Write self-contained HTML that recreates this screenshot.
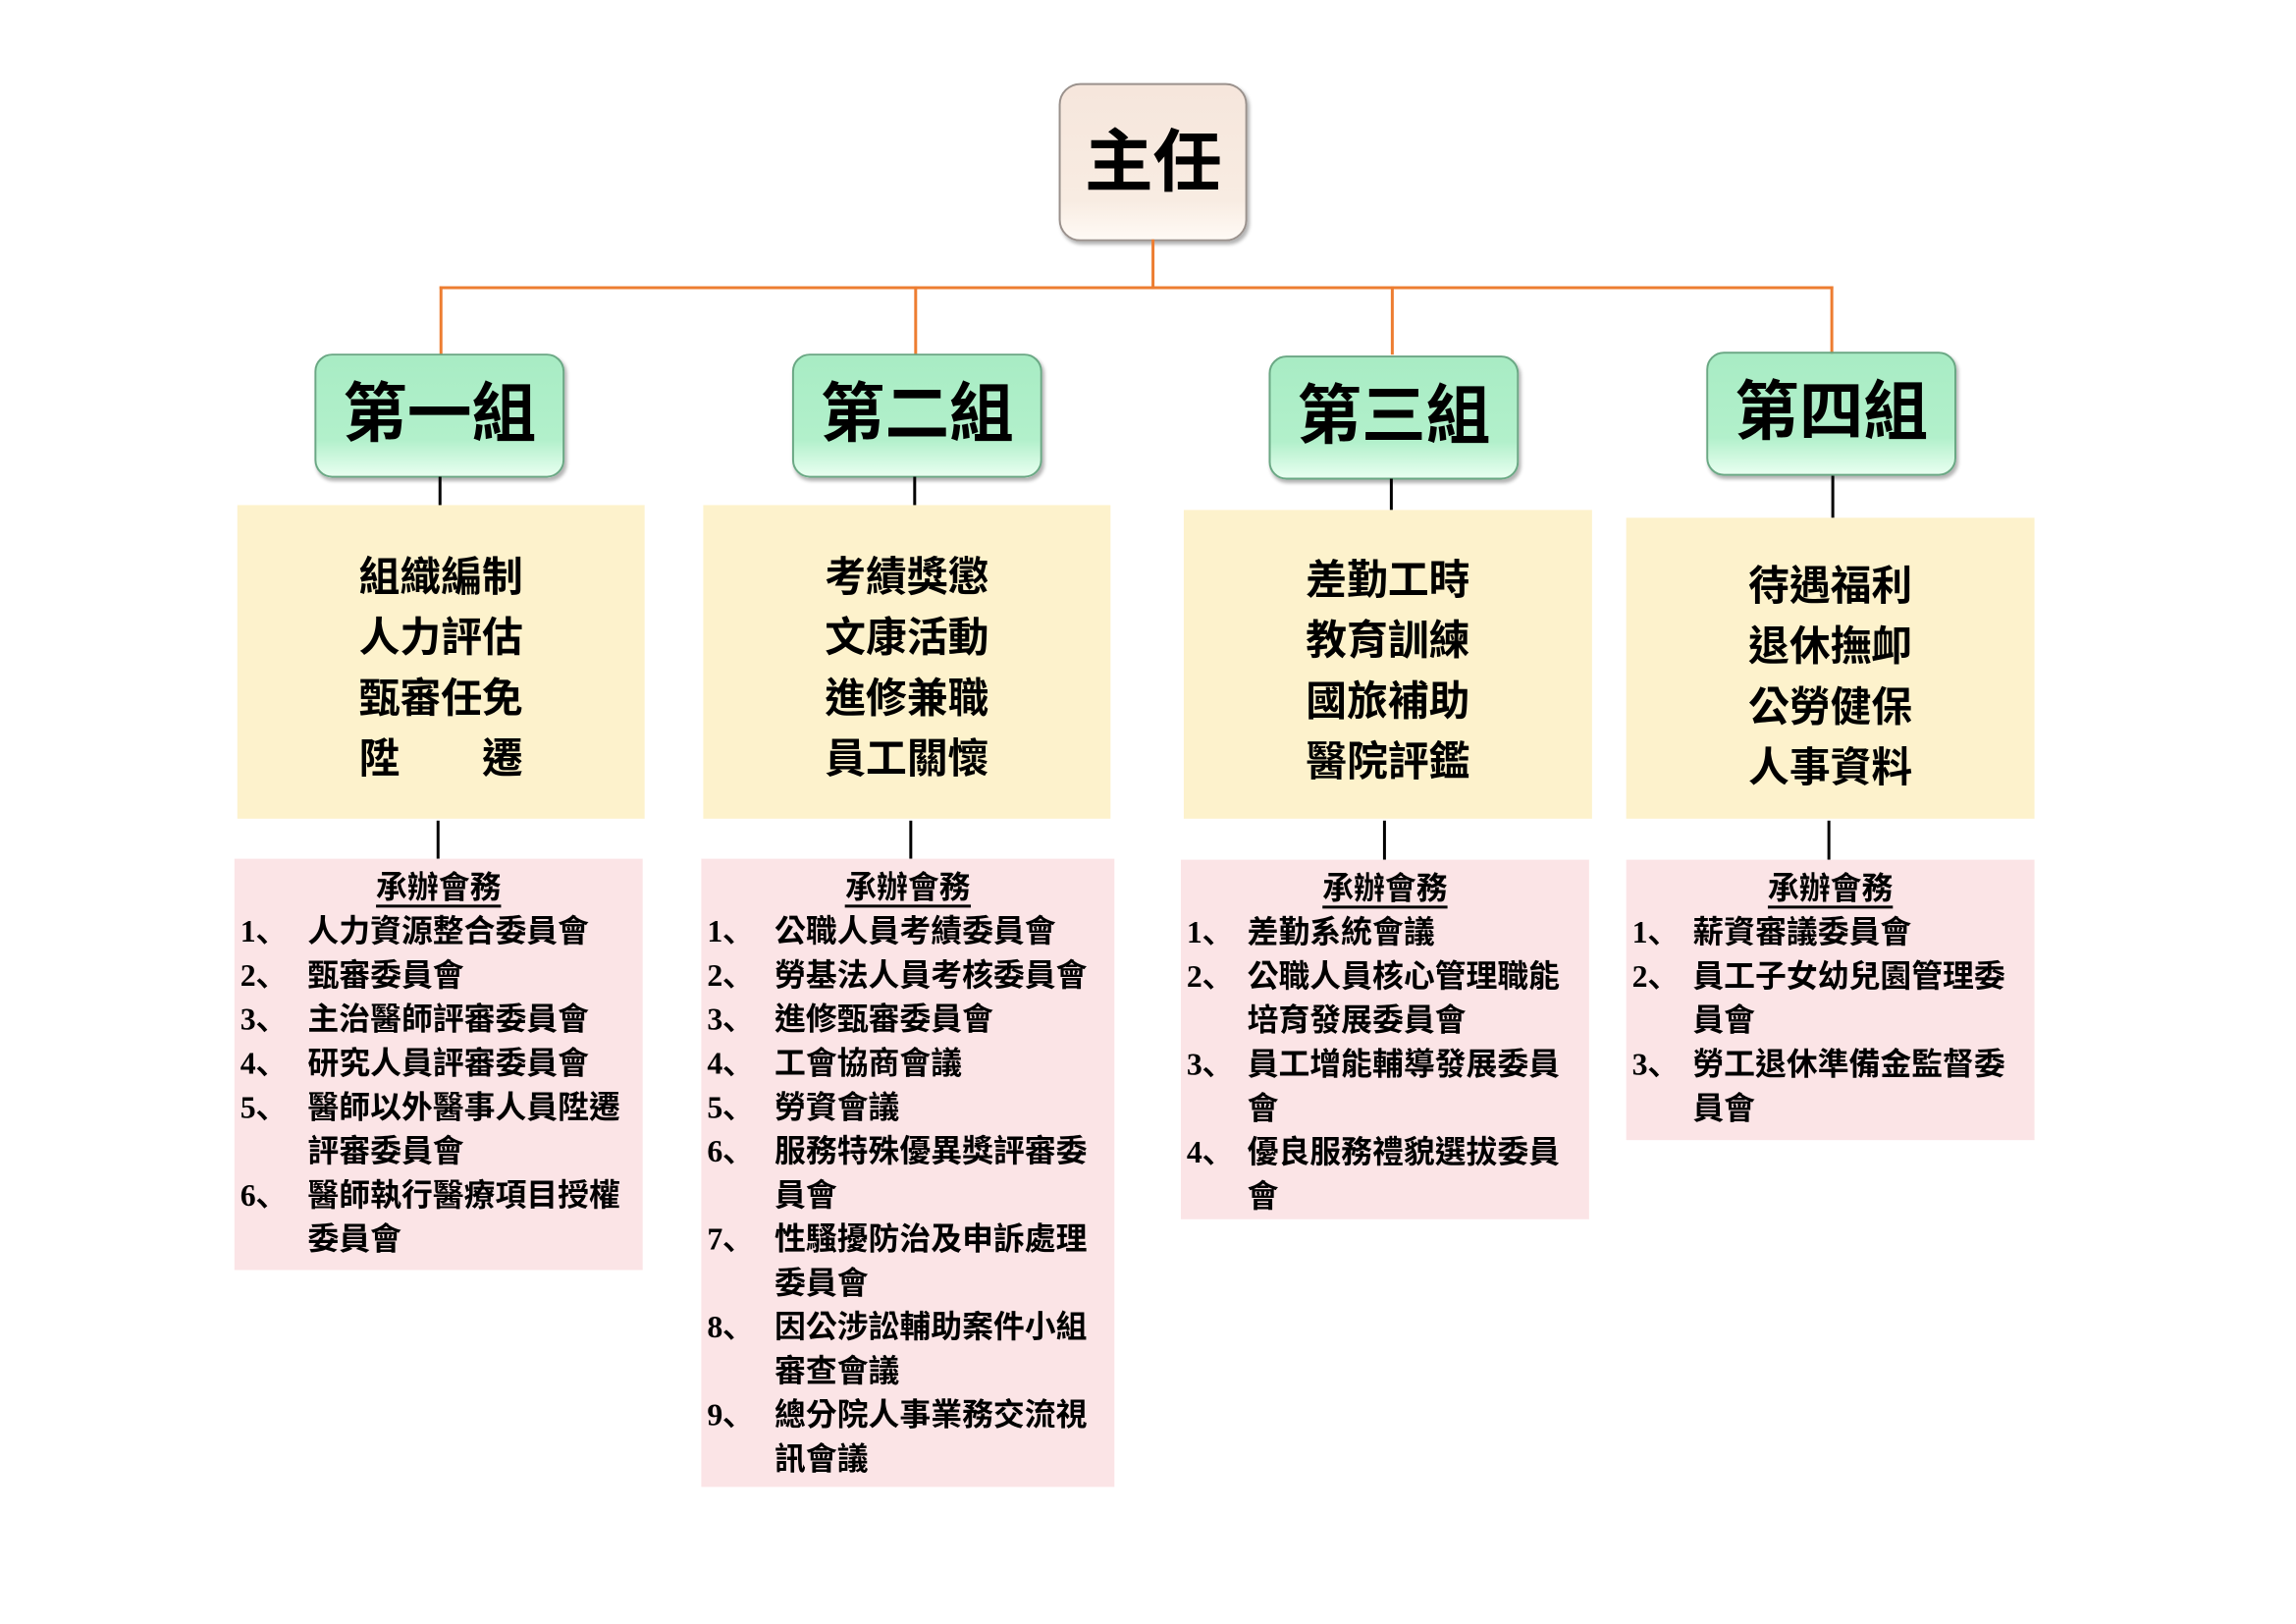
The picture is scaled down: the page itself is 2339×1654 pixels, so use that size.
<!DOCTYPE html>
<html><head><meta charset="utf-8"><style>
body{margin:0;width:2339px;height:1654px;background:#fff;position:relative;overflow:hidden;font-family:"Liberation Sans","Noto Sans CJK TC",sans-serif;}
#w{position:absolute;left:0;top:0;width:2339px;height:1654px;transform:scale(0.995);transform-origin:0 0;}
.a{position:absolute;}
.top{left:1084px;top:85px;width:189px;height:158px;border:2px solid #9a918c;border-radius:22px;background:linear-gradient(#f6e6dc,#f8ece2 75%,#fffaf5);box-shadow:2px 3px 4px rgba(0,0,0,.3);font-weight:bold;font-size:70px;line-height:158px;text-align:center;}
.g{top:362px;width:252px;height:123px;border:2px solid #6aa884;border-radius:18px;background:linear-gradient(#a8ecc4,#b2f0cb 70%,#e8fff0);box-shadow:2px 3px 4px rgba(0,0,0,.3);font-weight:bold;font-size:66px;line-height:118px;text-align:center;}
.y{background:#fdf2cc;font-weight:bold;font-size:42px;line-height:62px;text-align:center;box-sizing:border-box;}
.p{background:#fbe4e6;font-weight:bold;font-size:32px;line-height:45px;box-sizing:border-box;padding-top:7px;}
.h{text-align:center;}
.h span{border-bottom:3px solid #000;}
.r{display:flex;}
.n{font-family:"Liberation Serif",serif;width:68px;padding-left:6px;box-sizing:border-box;}
.p2 .n{width:75px;}
.vl{background:#000;width:3px;}
.ol{background:#ed7d31;}
</style></head><body><div id="w">
<div class="a top">主任</div>
<div class="a ol" style="left:1179px;top:245px;width:3px;height:51px"></div>
<div class="a ol" style="left:450px;top:293px;width:1427px;height:3px"></div>
<div class="a ol" style="left:450px;top:293px;width:3px;height:70px"></div>
<div class="a ol" style="left:936px;top:293px;width:3px;height:70px"></div>
<div class="a ol" style="left:1424px;top:293px;width:3px;height:70px"></div>
<div class="a ol" style="left:1874px;top:293px;width:3px;height:70px"></div>

<div class="a g" style="left:322px">第一組</div>
<div class="a g" style="left:811px">第二組</div>
<div class="a g" style="left:1299px;top:364px">第三組</div>
<div class="a g" style="left:1747px;top:360px">第四組</div>

<div class="a vl" style="left:449px;top:488px;height:30px"></div>
<div class="a vl" style="left:935px;top:488px;height:30px"></div>
<div class="a vl" style="left:1423px;top:490px;height:32px"></div>
<div class="a vl" style="left:1875px;top:487px;height:43px"></div>

<div class="a y" style="left:243px;top:517px;width:417px;height:321px;padding-top:43px">組織編制<br>人力評估<br>甄審任免<br>陞&emsp;&emsp;遷</div>
<div class="a y" style="left:720px;top:517px;width:417px;height:321px;padding-top:43px">考績獎懲<br>文康活動<br>進修兼職<br>員工關懷</div>
<div class="a y" style="left:1212px;top:522px;width:418px;height:316px;padding-top:41px">差勤工時<br>教育訓練<br>國旅補助<br>醫院評鑑</div>
<div class="a y" style="left:1665px;top:530px;width:418px;height:308px;padding-top:39px">待遇福利<br>退休撫卹<br>公勞健保<br>人事資料</div>

<div class="a vl" style="left:447px;top:840px;height:39px"></div>
<div class="a vl" style="left:931px;top:840px;height:39px"></div>
<div class="a vl" style="left:1416px;top:840px;height:40px"></div>
<div class="a vl" style="left:1871px;top:840px;height:40px"></div>

<div class="a p p2" style="left:240px;top:879px;width:418px;height:421px">
<div class="h"><span>承辦會務</span></div>
<div class="r"><div class="n">1、</div><div>人力資源整合委員會</div></div>
<div class="r"><div class="n">2、</div><div>甄審委員會</div></div>
<div class="r"><div class="n">3、</div><div>主治醫師評審委員會</div></div>
<div class="r"><div class="n">4、</div><div>研究人員評審委員會</div></div>
<div class="r"><div class="n">5、</div><div>醫師以外醫事人員陞遷<br>評審委員會</div></div>
<div class="r"><div class="n">6、</div><div>醫師執行醫療項目授權<br>委員會</div></div>
</div>

<div class="a p p2" style="left:718px;top:879px;width:423px;height:643px">
<div class="h"><span>承辦會務</span></div>
<div class="r"><div class="n">1、</div><div>公職人員考績委員會</div></div>
<div class="r"><div class="n">2、</div><div>勞基法人員考核委員會</div></div>
<div class="r"><div class="n">3、</div><div>進修甄審委員會</div></div>
<div class="r"><div class="n">4、</div><div>工會協商會議</div></div>
<div class="r"><div class="n">5、</div><div>勞資會議</div></div>
<div class="r"><div class="n">6、</div><div>服務特殊優異獎評審委<br>員會</div></div>
<div class="r"><div class="n">7、</div><div>性騷擾防治及申訴處理<br>委員會</div></div>
<div class="r"><div class="n">8、</div><div>因公涉訟輔助案件小組<br>審查會議</div></div>
<div class="r"><div class="n">9、</div><div>總分院人事業務交流視<br>訊會議</div></div>
</div>

<div class="a p" style="left:1209px;top:880px;width:418px;height:368px">
<div class="h"><span>承辦會務</span></div>
<div class="r"><div class="n">1、</div><div>差勤系統會議</div></div>
<div class="r"><div class="n">2、</div><div>公職人員核心管理職能<br>培育發展委員會</div></div>
<div class="r"><div class="n">3、</div><div>員工增能輔導發展委員<br>會</div></div>
<div class="r"><div class="n">4、</div><div>優良服務禮貌選拔委員<br>會</div></div>
</div>

<div class="a p" style="left:1665px;top:880px;width:418px;height:287px">
<div class="h"><span>承辦會務</span></div>
<div class="r"><div class="n">1、</div><div>薪資審議委員會</div></div>
<div class="r"><div class="n">2、</div><div>員工子女幼兒園管理委<br>員會</div></div>
<div class="r"><div class="n">3、</div><div>勞工退休準備金監督委<br>員會</div></div>
</div>
</div></body></html>
